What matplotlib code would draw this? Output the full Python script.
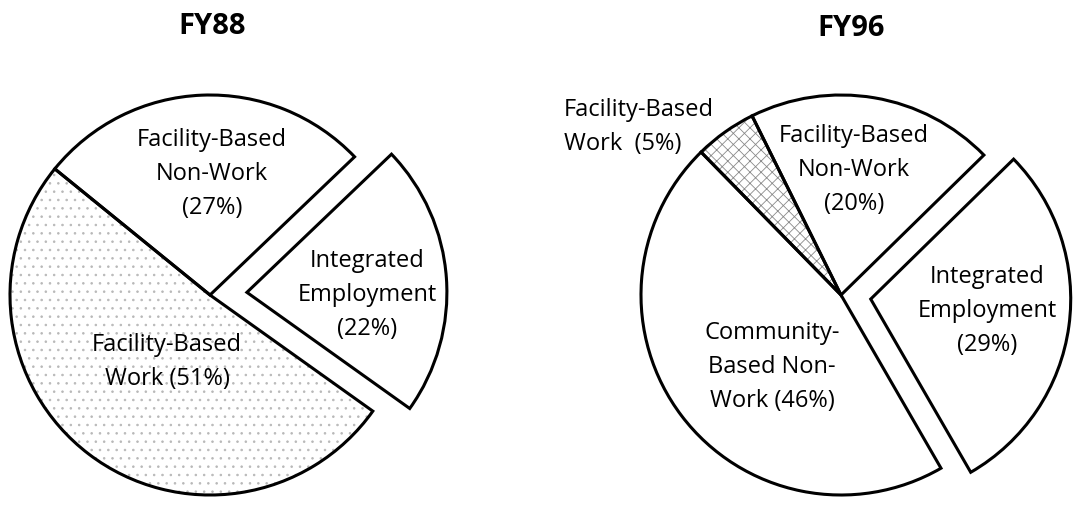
import matplotlib
matplotlib.use("Agg")
import matplotlib.pyplot as plt

# FY88 shares (%), counter-clockwise from the exploded slice
fy88_labels = ["Integrated\nEmployment\n(22%)", "Facility-Based\nNon-Work\n(27%)",
               "Facility-Based\nWork (51%)"]
fy88_values = [22, 27, 51]

# FY96 shares (%)
fy96_labels = ["Integrated\nEmployment\n(29%)", "Facility-Based\nNon-Work\n(20%)",
               "Facility-Based\nWork  (5%)", "Community-\nBased Non-\nWork (46%)"]
fy96_values = [29, 20, 5, 46]

W, H = 1092, 507
fig = plt.figure(figsize=(W / 100, H / 100), dpi=100)
ax = fig.add_axes([0, 0, 1, 1])

font = "Open Sans"
R = 200
plt.rcParams["hatch.linewidth"] = 0.6


def draw_pie(values, center, start, explode, hatches, hatch_colors):
    # fill / hatch layer
    wedges, _ = ax.pie(values, center=center, radius=R, startangle=start,
                       counterclock=True, explode=explode, colors=["white"] * len(values),
                       wedgeprops=dict(linewidth=0), frame=True)
    for w, h, hc in zip(wedges, hatches, hatch_colors):
        if h:
            w.set_hatch(h)
            w.set_edgecolor(hc)
    # outline layer
    ax.pie(values, center=center, radius=R, startangle=start, counterclock=True,
           explode=explode, colors=["none"] * len(values),
           wedgeprops=dict(linewidth=2.2, edgecolor="black", joinstyle="miter"),
           frame=True)


# FY88 (explode is in data units = pixels here)
draw_pie(fy88_values, (210, H - 295), -35.5, [37, 0, 0],
         [None, None, ".."], [None, None, "#b8b8b8"])
# FY96
draw_pie(fy96_values, (841, H - 295), -60, [30, 0, 0, 0],
         [None, None, "xxx", None], [None, None, "#8a8a8a", None])

ax.set_xlim(0, W)
ax.set_ylim(0, H)
ax.set_aspect("equal")
ax.axis("off")

ax.text(212, H - 26, "FY88", ha="center", va="center", fontsize=21,
        fontweight="bold", family=font)
ax.text(851, H - 28, "FY96", ha="center", va="center", fontsize=21,
        fontweight="bold", family=font)

fy88_pos = [(367, 295), (212, 174), (167, 362)]
for lab, (x, y) in zip(fy88_labels, fy88_pos):
    ax.text(x, H - y, lab, ha="center", va="center", fontsize=17, family=font,
            linespacing=1.55)

fy96_pos = [(987, 311), (854, 170), (564, 127), (772, 367)]
for i, (lab, (x, y)) in enumerate(zip(fy96_labels, fy96_pos)):
    if i == 2:
        ax.text(x, H - y, lab, ha="left", va="center", fontsize=17, family=font,
                linespacing=1.55, multialignment="left")
    else:
        ax.text(x, H - y, lab, ha="center", va="center", fontsize=17, family=font,
                linespacing=1.55)

fig.savefig("out.png", dpi=100)
